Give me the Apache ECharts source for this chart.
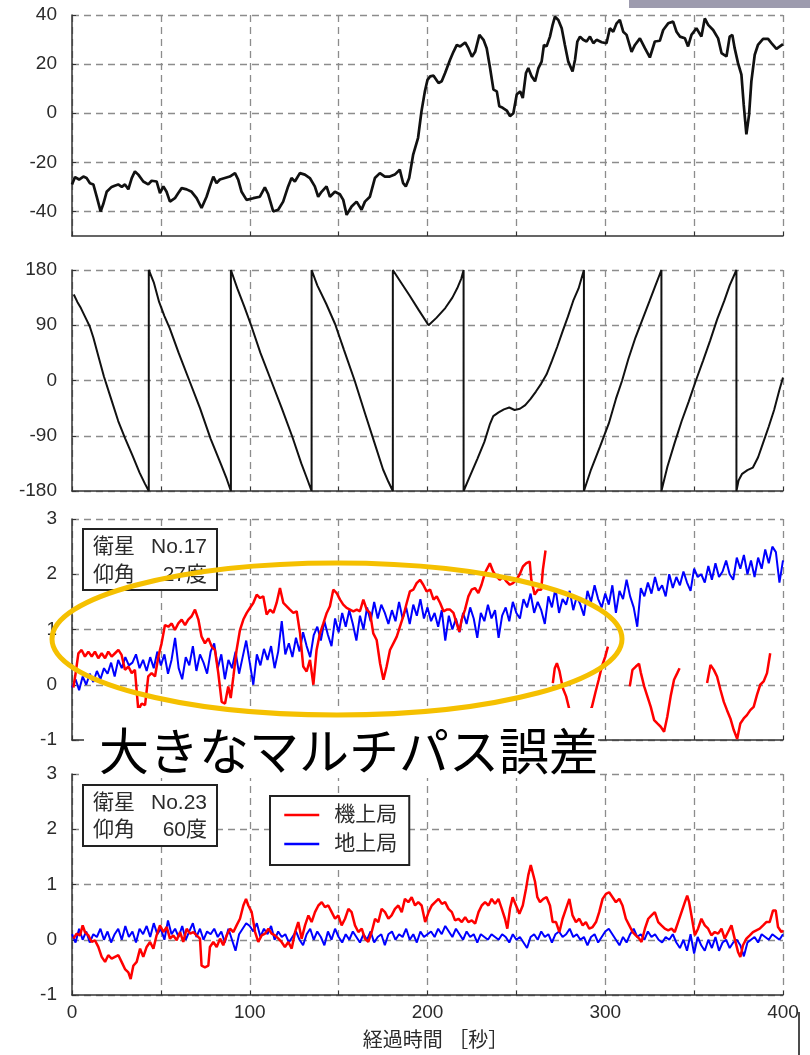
<!DOCTYPE html>
<html>
<head>
<meta charset="utf-8">
<script src="https://cdn.jsdelivr.net/npm/echarts@6/dist/echarts.min.js"></script>
<style>
  html, body { margin: 0; padding: 0; background: #fff; }
  #chart { width: 810px; height: 1055px; }
</style>
</head>
<body>
<div id="chart"></div>
<script>
// ---- time axis ----
const timeTickLabels = [0, 100, 200, 300, 400];
const SAMPLE_STEP = 2; // seconds between samples of the ground-station series

// ---- panel 1: heading difference [deg] ----
const headingTicks = [-40, -20, 0, 20, 40];
const headingDiff = [
  [0,-29],[1.7,-26],[4,-27],[6.4,-25.8],[8.2,-26.4],[10.1,-28.5],[12,-29],[13.9,-34],[16.1,-40],[17.6,-37],
  [19.5,-32],[22.3,-30],[24,-29.5],[26,-29],[28,-30],[29.8,-29],[31.7,-31],[33.6,-26.4],[35.4,-23.7],[37.3,-25],
  [40.1,-27.8],[42.9,-29],[44.8,-27.5],[47.6,-27.8],[49.5,-32.5],[51.4,-29.8],[53.2,-32],[55.1,-36],[57.9,-34.6],[59.8,-32.5],
  [61.7,-30.5],[64.5,-31],[67.3,-32],[70.1,-34.6],[72.9,-38.6],[75.7,-34],[77.6,-29.8],[79.5,-25.8],[81.3,-28.5],[83.2,-27],
  [86,-26.4],[88.8,-25.8],[91.7,-24.4],[93.5,-27],[95.4,-32],[98.2,-35.3],[102,-34.6],[105.7,-34],[108.5,-30.2],[110.4,-33],
  [113.2,-40],[116,-39.3],[118.8,-36],[121.6,-29.8],[123.5,-26.4],[125.4,-27.8],[128.2,-24.4],[131,-25],[133.8,-26.4],[136.6,-29.8],
  [138.5,-34],[140.4,-32],[143.2,-29.8],[145.1,-34],[147.9,-32],[150.7,-33],[152.6,-35.3],[154.5,-41.4],[157.3,-38],[160.1,-36],
  [162.9,-39.3],[164.8,-36],[167.6,-34],[170.4,-26.4],[173.2,-24.4],[176,-25.8],[178.8,-25.8],[181.6,-25],[184.4,-23],[186.3,-28.5],
  [187.8,-29.8],[189.7,-26.4],[191.9,-17],[194.7,-10],[196.6,0.7],[198.5,8.8],[200,13.6],[201.5,15],[203.4,15.3],[206.2,12.3],
  [208,13],[209.9,16.4],[212.7,21.8],[214.6,25],[216.5,27.8],[218.4,27.2],[221.2,28.8],[223,26.5],[225,23],[226.8,25],
  [229.2,31.9],[231.5,29.9],[233.3,26.5],[235.2,18.4],[237.1,9.6],[239,8.9],[240.4,2.8],[242.3,2.2],[244.6,1.1],[246.4,-1.2],
  [248.3,0],[250.2,7.6],[252.1,8.9],[253.6,6.2],[255.4,16.4],[256.7,18.4],[258.6,15],[260.5,13],[262.4,18.4],[264.2,21],
  [265.5,27.8],[267,27.2],[268.9,31.2],[270.4,36],[271.7,39.3],[273.6,38],[275.5,34.6],[277.3,27.8],[279.2,21],[281.6,17],
  [283,21.8],[284.3,29.2],[285.8,31.2],[287.6,29.9],[289.5,29.2],[291.4,31.2],[293.3,28.5],[295.1,29.9],[298,28.9],[300.7,28.5],
  [302.6,34.6],[304.5,33.2],[306.4,36.6],[308.2,38],[310.1,33.2],[312,31.9],[314.8,25],[316.7,27.8],[319.5,30.5],[322.3,26.5],
  [325.1,22.7],[327.9,29.2],[330.7,29.5],[332.6,33.9],[335.4,36.6],[338.2,37.3],[340.1,33.2],[342,31.2],[344.8,30.5],[346.6,27.2],
  [348.5,31.9],[351.3,34.6],[354.1,31.2],[356,38.6],[357.9,36],[360.7,33.9],[363.5,30.5],[365.4,24.5],[368.2,23.1],[370,31.2],
  [371.5,31.9],[372.8,26.5],[374.7,20.4],[376.6,15.7],[377.9,3.5],[379.4,-8.6],[380.9,-0.7],[382.2,13],[384.1,23.8],[385.9,27.8],
  [388.8,30.3],[391.6,30.3],[394,28.1],[396.3,26.2],[400,28.1]
];

// ---- panel 2: phase [deg], wrapping at ±180 ----
const phaseTicks = [-180, -90, 0, 90, 180];
const phaseAngle = [
  [1,140],[3,128],[5,118],[8,100],[10,88],[12,70],[15,38],[18,6],[22,-30],[26,-66],[30,-95],[34,-122],[38,-150],[41,-168],[43.2,-180],[43.2,180],
  [46,160],[49,128],[52,105],[55,85],[60,45],[66,0],[72,-45],[78,-95],[84,-138],[87,-160],[89.4,-180],[89.4,180],
  [93,150],[97,120],[101,88],[106,45],[112,0],[118,-45],[124,-92],[129,-135],[132,-158],[134.8,-180],[134.8,180],
  [138,155],[143,125],[148,92],[153,50],[159,0],[165,-55],[170,-100],[175,-145],[178,-165],[180.5,-180],[180.5,180],
  [185,160],[190,138],[195,115],[200.6,90],[205,102],[210,118],[214,135],[217,152],[219,166],[220.3,180],[220.3,-180],
  [224,-155],[228,-128],[232,-100],[235,-72],[237,-58],[240,-52],[243,-47],[246,-44],[249,-48],[252,-46],[255,-40],[258,-30],[261,-18],
  [264,-5],[267,10],[270,32],[273,55],[276,80],[279,104],[282,130],[285,150],[288,180],[288,-180],
  [292,-145],[297,-108],[302,-70],[306,-30],[309.5,0],[313,35],[317,70],[321,100],[325,130],[328,153],[331.6,180],[331.6,-180],
  [335,-140],[339,-102],[343,-66],[347,-34],[351,0],[355,32],[359,65],[363,100],[367,130],[370,155],[373.8,180],[373.8,-180],
  [375,-163],[377,-152],[380,-146],[383,-142],[386,-125],[389,-100],[392,-75],[395,-48],[398,-15],[400,5]
];

// ---- panels 3 & 4: positioning error [m] ----
const errorTicks = [-1, 0, 1, 2, 3];
const stationNames = ['機上局', '地上局'];
const satelliteIds = ['No.17', 'No.23'];
const elevations = ['27度', '60度'];

// satellite No.17, airborne station ('-' marks dropouts)
const sat17Air = [
  [0.8,-0.05],[2,0.2],[3.6,0.57],[5.4,0.63],[7.3,0.51],[9.2,0.6],[11.1,0.51],[12.9,0.6],[14.8,0.48],[16.7,0.57],
  [18.6,0.48],[20.4,0.6],[22.3,0.51],[24.2,0.57],[26.1,0.63],[27.9,0.54],[29.8,0.27],[31.7,0.33],[33.6,0.21],[35.4,0.27],
  [37.3,-0.46],[39.2,-0.34],[41.1,-0.37],[42.9,0.15],[44.8,0.21],[46.7,0.15],[48.6,0.51],[50.4,0.75],[52.3,1.08],[54.2,1.05],
  [56.1,1.11],[57.9,0.99],[59.8,1.11],[61.7,1.18],[63.6,1.08],[65.4,1.18],[67.3,1.24],[69.2,1.36],[71.1,1.18],[72.9,0.87],
  [74.8,0.75],[76.7,0.84],[78.6,0.69],[80.4,0.63],[82.3,0.21],[84.2,-0.31],[86.1,-0.34],[87.9,-0.03],[89.3,-0.24],[90.8,0.15],
  [92.6,0.63],[94.5,0.99],[96.4,1.18],[98.3,1.3],[100.1,1.39],[102,1.48],[103.9,1.63],[105.8,1.57],[107.6,1.6],[109.5,1.27],
  [111.4,1.36],[113.3,1.3],[115.1,1.48],[117,1.75],[118.9,1.48],[120.8,1.42],[122.6,1.36],[124.5,1.3],[126.4,1.33],[128.3,0.93],
  [130.1,0.33],[132,0.24],[133.9,0.45],[135.8,0.0],[137.6,0.63],[139.5,0.93],[141.4,1.11],[143.3,1.3],[145.1,1.42],[147,1.72],
  [148.9,1.66],[150.8,1.54],[152.6,1.45],[154.5,1.39],[156.4,1.36],[158.3,1.33],[160.2,1.36],[162,1.33],[163.9,1.54],[165.8,1.36],
  [167.7,1.3],[169.5,0.93],[171.4,0.81],[173.3,0.39],[175.2,0.09],[177,0.33],[178.9,0.63],[180.8,0.75],[182.7,0.87],[184.5,1.05],
  [186.4,1.24],[188.3,1.48],[190.1,1.69],[192,1.72],[193.9,1.84],[195.8,1.9],[197.6,1.81],[199.5,1.69],[201.5,1.72],[203.4,1.54],
  [205.2,1.6],[207.1,1.48],[209,1.33],[210.8,1.36],[212.7,1.36],[214.6,1.3],[216.4,1.11],[217.9,0.96],[219.2,1.18],[221.1,1.36],
  [223,1.6],[224.8,1.72],[226.7,1.75],[228.6,1.66],[230.4,1.81],[232.3,2.02],[233.2,2.08],[235.1,2.2],[236.9,2.05],[238.8,1.96],
  [240.7,1.9],[242.5,1.96],[244.4,1.87],[246.3,1.81],[248.1,1.84],[250,1.9],[251.9,2.0],[253.7,2.14],[255.6,2.2],[257.5,2.23],
  [258.4,1.9],[260.3,1.63],[262.1,1.72],[264,1.72],[264.9,2.08],[266.4,2.43],
  [268,'-'],
  [270.5,0.03],[271.6,0.3],[272.8,0.39],[274.3,0.24],[276.1,-0.06],[278,-0.21],[279.9,-0.46],[281.3,-0.67],[283.2,-0.67],[285.1,-0.76],
  [287.3,-0.88],[288.8,-0.76],[290.7,-0.52],[292.5,-0.4],[294.4,-0.15],[296.3,0.09],[298.1,0.33],[300,0.51],[301.5,0.69],
  [308,'-'],
  [313.8,-0.03],[315.3,0.27],[317.2,0.33],[319,0.38],[320,0.22],[321.9,-0.03],[323.7,-0.21],[325.6,-0.4],[327.5,-0.64],[329.3,-0.7],
  [331.2,-0.76],[333.1,-0.85],[334.9,-0.58],[336.8,-0.21],[338.7,0.09],[340.5,0.21],[341.8,0.3],
  [350,'-'],
  [357.3,0.03],[359.2,0.36],[361.1,0.27],[362.9,0.15],[364.8,-0.09],[366.7,-0.31],[368.5,-0.46],[370.4,-0.61],[372.3,-0.82],[374.2,-0.98],
  [376,-0.7],[377.9,-0.61],[379.7,-0.55],[381.6,-0.46],[383.5,-0.4],[385.4,-0.18],[387.2,0.0],[389.1,0.06],[391,0.21],[392.8,0.57]
];

// satellite No.17, ground station (one value every SAMPLE_STEP seconds, 0..400 s)
const sat17Ground = [
  -0.05,0.1,-0.1,0.15,0.0,0.2,0.05,0.25,0.1,0.3,
  0.2,0.4,0.15,0.45,0.3,0.5,0.35,0.4,0.55,0.3,
  0.45,0.25,0.5,0.3,0.6,0.35,0.55,0.2,0.45,0.85,
  0.3,0.1,0.5,0.35,0.7,0.25,0.55,0.4,0.2,0.6,
  0.75,0.3,0.55,0.1,0.45,0.3,0.6,0.2,0.5,0.8,
  0.4,0.0,0.55,0.35,0.65,0.45,0.7,0.3,0.6,1.15,
  0.55,0.75,0.5,0.85,0.6,0.95,0.7,0.5,0.9,1.05,
  0.8,1.15,0.9,0.7,1.2,0.95,1.3,1.05,1.35,1.1,
  0.8,1.25,1.0,1.4,1.15,1.5,1.2,1.45,1.3,1.1,
  1.35,1.15,1.5,1.2,1.4,1.1,1.45,1.25,1.55,1.2,
  1.4,1.15,1.3,1.05,1.35,0.8,1.25,1.0,1.2,0.95,
  1.3,1.1,1.4,1.2,0.85,1.3,1.15,1.45,1.2,1.35,
  0.85,1.25,1.4,1.15,1.5,1.3,1.2,1.55,1.4,1.65,
  1.3,1.5,1.35,1.1,1.6,1.4,1.75,1.3,1.55,1.45,
  1.7,1.35,1.6,1.45,1.25,1.7,1.5,1.8,1.55,1.4,
  1.65,1.45,1.8,1.3,1.7,1.55,1.9,1.6,1.4,1.05,
  1.75,1.6,1.85,1.65,1.95,1.7,1.8,1.6,2.0,1.75,
  1.95,1.8,2.05,1.85,1.7,2.1,1.95,2.0,1.85,2.15,
  1.9,2.2,1.95,2.05,2.25,2.0,1.9,2.3,2.1,2.35,
  2.0,2.25,1.95,2.3,2.1,2.45,2.2,2.5,2.4,1.85,
  2.25
];

// satellite No.23, airborne station
const sat23Air = [
  [0.8,0.02],[2.6,0.11],[4.5,0.08],[6,0.26],[7.3,0.14],[9.2,0.08],[11.1,-0.04],[12.9,-0.01],[14.8,-0.13],[16.7,-0.31],
  [18.6,-0.4],[20.4,-0.28],[22.3,-0.34],[24.2,-0.31],[26.1,-0.28],[27.9,-0.4],[29.8,-0.53],[31.7,-0.59],[33,-0.71],[34.5,-0.47],
  [36.4,-0.4],[38.3,-0.16],[40.1,-0.31],[42,-0.13],[43.9,-0.04],[45.8,-0.16],[47.6,0.08],[49.5,0.26],[51.4,0.14],[53.3,0.23],
  [55.1,0.02],[57,0.08],[58.9,-0.01],[60.8,0.14],[62.6,-0.04],[64.5,0.2],[66.4,0.11],[68.3,0.14],[70.1,0.08],[72,0.02],
  [72.9,-0.47],[74.8,-0.5],[76.7,-0.47],[77.6,-0.13],[79.5,-0.04],[81.4,-0.13],[83.3,0.02],[85.1,-0.1],[87,0.08],[88.9,0.2],
  [90.8,0.14],[92.6,0.26],[94.5,0.38],[96.4,0.62],[97.9,0.74],[99.2,0.62],[101.1,0.5],[103,0.14],[104.8,-0.04],[106.7,0.08],
  [108.6,0.11],[110.5,0.2],[112.3,0.11],[114.2,0.08],[116.1,0.02],[117.9,-0.04],[119.8,-0.13],[121.7,-0.04],[123.6,-0.16],[125.5,0.14],
  [127.3,0.32],[129.2,0.02],[131.1,0.26],[133,0.44],[134.8,0.32],[136.7,0.5],[138.6,0.62],[140.5,0.68],[142.3,0.59],[144.2,0.62],
  [146.1,0.5],[148,0.38],[149.8,0.44],[151.7,0.26],[153.6,0.38],[155.5,0.56],[157.3,0.5],[159.2,0.26],[161.1,0.14],[163,0.2],
  [164.8,0.02],[166.7,-0.04],[168.6,0.14],[170.5,0.38],[172.3,0.32],[174.2,0.56],[176.1,0.5],[178,0.38],[179.8,0.44],[181.7,0.56],
  [183.6,0.62],[185.5,0.5],[187.3,0.74],[189.2,0.68],[191.1,0.77],[193,0.62],[194.8,0.68],[196.7,0.62],[198.7,0.32],[200.6,0.5],
  [202.4,0.62],[204.3,0.68],[206.2,0.74],[208.1,0.65],[209.9,0.68],[211.8,0.56],[213.7,0.5],[215.5,0.35],[217.4,0.38],[219.3,0.32],
  [221.2,0.41],[223,0.32],[224.9,0.35],[226.8,0.29],[228.7,0.5],[230.5,0.62],[232.4,0.68],[234.3,0.62],[236.1,0.74],[238,0.65],
  [239.9,0.74],[241.8,0.56],[243.6,0.38],[244.9,0.2],[246.4,0.56],[247.9,0.77],[249.8,0.62],[251.7,0.47],[253.6,0.62],[255.4,0.92],
  [256.7,1.17],[258.1,1.35],[259.2,1.35],[260.5,1.05],[261.8,0.77],[263.3,0.68],[265.2,0.74],[267,0.77],[268.9,0.62],[270.4,0.32],
  [272.3,0.32],[274.2,0.14],[276,0.38],[277.9,0.56],[279.8,0.74],[281.6,0.44],[283.5,0.32],[285.4,0.38],[287.3,0.26],[289.1,0.32],
  [291,0.2],[292.9,0.23],[294.8,0.32],[296.6,0.5],[298.5,0.74],[300.4,0.83],[302.2,0.86],[304.1,0.77],[306,0.68],[307.9,0.74],
  [309.7,0.62],[311.6,0.38],[313.5,0.26],[315.4,0.14],[317.2,0.08],[319.1,0.02],[320.4,-0.04],[322.3,0.2],[324.2,0.38],[326,0.44],
  [327.9,0.5],[329.8,0.32],[331.6,0.26],[333.5,0.2],[335.4,0.17],[337.3,0.2],[339.1,0.14],[341,0.32],[342.9,0.5],[344.8,0.68],
  [346.1,0.8],[347.2,0.68],[348.5,0.44],[350.4,0.08],[352.2,0.2],[354.1,0.38],[356,0.26],[357.9,0.2],[359.7,0.08],[361.6,0.14],
  [363.5,0.11],[365.4,0.2],[367.2,0.02],[369.1,0.14],[371,0.26],[372.8,0.02],[374.7,-0.22],[376,-0.31],[377.5,-0.1],[379.4,0.02],
  [381.3,0.08],[383.1,0.14],[385,0.17],[386.9,0.2],[388.8,0.26],[390.6,0.32],[392.5,0.32],[394.4,0.53],[395.9,0.53],[397.2,0.23],
  [399.1,0.14],[400,0.17]
];

// satellite No.23, ground station (one value every SAMPLE_STEP seconds)
const sat23Ground = [
  0.1,-0.05,0.2,0.0,0.15,-0.05,0.1,0.05,0.2,0.0,
  0.15,-0.05,0.1,0.2,0.0,0.25,0.05,0.15,-0.05,0.2,
  0.1,0.25,0.05,0.3,0.1,0.2,0.0,0.35,0.1,0.2,
  0.05,0.25,0.0,0.15,0.3,0.05,0.2,0.0,0.15,0.1,
  0.2,0.05,0.15,-0.05,0.2,0.0,-0.2,0.1,0.2,0.3,
  0.25,0.15,0.3,0.05,0.2,0.1,0.25,0.0,0.15,0.05,
  0.1,-0.05,0.05,0.15,0.0,-0.1,0.1,0.2,0.0,0.15,
  0.05,-0.1,0.15,0.0,0.2,0.05,-0.05,0.1,0.0,0.15,
  0.05,-0.05,0.1,0.0,0.15,-0.05,0.05,0.1,-0.1,0.1,
  0.15,0.0,0.1,0.05,0.2,0.0,0.1,-0.05,0.15,0.05,
  0.1,0.15,0.05,0.2,0.1,0.25,0.15,0.05,0.2,0.1,
  0.0,0.15,0.05,0.1,-0.05,0.1,0.05,0.0,0.1,0.05,
  0.0,0.1,0.05,-0.05,0.1,0.0,0.05,-0.05,-0.15,0.05,
  0.1,0.0,0.15,0.05,0.1,-0.05,0.1,0.15,0.05,0.1,
  0.2,0.05,0.1,0.0,0.05,-0.1,0.05,0.1,-0.05,0.05,
  0.15,0.2,0.1,0.0,-0.1,0.05,-0.05,0.1,0.2,0.05,
  0.1,0.0,0.15,0.05,0.1,0.0,-0.05,0.05,0.0,0.1,
  -0.05,-0.15,0.0,-0.2,0.1,-0.25,0.05,-0.1,-0.2,0.0,
  -0.15,0.05,-0.2,-0.05,0.0,-0.15,-0.05,0.0,-0.1,-0.3,
  -0.05,0.0,0.05,-0.05,0.1,0.05,0.0,0.1,0.05,0.0,
  0.1
];

const AIR_COLOR = '#ff0000';
const GROUND_COLOR = '#0000ff';
const LABEL_FONT = '"Liberation Sans", Arial, sans-serif';
const JP_FONT = '"Liberation Sans", "Noto Sans CJK JP", sans-serif';

const withTimes = vals => vals.map((v, i) => [i * SAMPLE_STEP, v]);

const gridRects = [
  { top: 15, height: 221 },
  { top: 270, height: 221 },
  { top: 519, height: 221 },
  { top: 774, height: 221 }
];

const dashed = { color: '#8c8c8c', width: 1.3, type: [7, 5] };

function xAxisFor(idx, isBottom) {
  return {
    type: 'value', gridIndex: idx, min: 0, max: 400, interval: 50,
    axisLine: { show: true, onZero: false, lineStyle: { color: '#333', width: 1.5 } },
    axisTick: { show: true, inside: true, length: 4, lineStyle: { color: '#333' } },
    axisLabel: {
      show: isBottom, customValues: timeTickLabels, margin: 8,
      fontSize: 19, color: '#2b2b2b', fontFamily: LABEL_FONT
    },
    splitLine: { show: true, lineStyle: dashed },
    name: isBottom ? '経過時間 ［秒］' : '',
    nameLocation: 'middle', nameGap: 36,
    nameTextStyle: { fontSize: 20, color: '#2b2b2b', fontFamily: JP_FONT, padding: [0, 0, 0, 16] }
  };
}

function yAxisFor(idx, min, max, interval, ticks) {
  return {
    type: 'value', gridIndex: idx, min, max, interval,
    axisLine: { show: true, onZero: false, lineStyle: { color: '#333', width: 1.5 } },
    axisTick: { show: true, inside: true, length: 4, customValues: ticks, lineStyle: { color: '#333' } },
    axisLabel: { customValues: ticks, margin: 15, fontSize: 19, color: '#2b2b2b', fontFamily: LABEL_FONT },
    splitLine: { show: true, lineStyle: dashed }
  };
}

function infoBox(x, y, h, rowGap, satId, elev) {
  const font = '21px ' + JP_FONT;
  const r1 = y + 18, r2 = r1 + rowGap;
  return [
    { type: 'rect', z: 50, shape: { x, y, width: 134, height: h },
      style: { fill: '#fff', stroke: '#222', lineWidth: 2 } },
    { type: 'text', z: 51, style: { x: x + 10, y: r1, text: '衛星', font, fill: '#2b2b2b', align: 'left', verticalAlign: 'middle' } },
    { type: 'text', z: 51, style: { x: x + 124, y: r1, text: satId, font, fill: '#2b2b2b', align: 'right', verticalAlign: 'middle' } },
    { type: 'text', z: 51, style: { x: x + 10, y: r2, text: '仰角', font, fill: '#2b2b2b', align: 'left', verticalAlign: 'middle' } },
    { type: 'text', z: 51, style: { x: x + 124, y: r2, text: elev, font, fill: '#2b2b2b', align: 'right', verticalAlign: 'middle' } }
  ];
}

const chart = echarts.init(document.getElementById('chart'), null, { renderer: 'canvas' });

chart.setOption({
  backgroundColor: '#fff',
  animation: false,
  grid: gridRects.map(g => ({ left: 72, right: 27, top: g.top, height: g.height })),
  xAxis: [xAxisFor(0, false), xAxisFor(1, false), xAxisFor(2, false), xAxisFor(3, true)],
  yAxis: [
    yAxisFor(0, -50, 40, 10, headingTicks),
    yAxisFor(1, -180, 180, 90, phaseTicks),
    yAxisFor(2, -1, 3, 1, errorTicks),
    yAxisFor(3, -1, 3, 1, errorTicks)
  ],
  legend: {
    data: stationNames, orient: 'vertical', left: 270, top: 796,
    padding: [8, 12, 10, 13], itemWidth: 35, itemHeight: 14, itemGap: 7,
    borderColor: '#222', borderWidth: 2, backgroundColor: '#fff',
    // line-only keys: hide the marker that line series add to their legend icon
    itemStyle: { opacity: 0, color: 'rgba(0,0,0,0)', borderWidth: 0 },
    lineStyle: { width: 2.5 },
    textStyle: { fontSize: 21, lineHeight: 22, color: '#2b2b2b', fontFamily: JP_FONT, padding: [0, 0, 0, 10] },
    z: 20
  },
  series: [
    { type: 'line', xAxisIndex: 0, yAxisIndex: 0, data: headingDiff, symbol: 'none',
      lineStyle: { color: '#111', width: 2.7 }, silent: true },
    { type: 'line', xAxisIndex: 1, yAxisIndex: 1, data: phaseAngle, symbol: 'none',
      lineStyle: { color: '#111', width: 2 }, silent: true },
    { type: 'line', name: stationNames[1], xAxisIndex: 2, yAxisIndex: 2, data: withTimes(sat17Ground), symbol: 'none',
      itemStyle: { color: GROUND_COLOR }, lineStyle: { color: GROUND_COLOR, width: 2 } },
    { type: 'line', name: stationNames[0], xAxisIndex: 2, yAxisIndex: 2, data: sat17Air, symbol: 'none',
      connectNulls: false, itemStyle: { color: AIR_COLOR }, lineStyle: { color: AIR_COLOR, width: 2.5 } },
    { type: 'line', name: stationNames[1], xAxisIndex: 3, yAxisIndex: 3, data: withTimes(sat23Ground), symbol: 'none',
      itemStyle: { color: GROUND_COLOR }, lineStyle: { color: GROUND_COLOR, width: 2 } },
    { type: 'line', name: stationNames[0], xAxisIndex: 3, yAxisIndex: 3, data: sat23Air, symbol: 'none',
      itemStyle: { color: AIR_COLOR }, lineStyle: { color: AIR_COLOR, width: 2.5 } }
  ],
  graphic: { elements: [
    // slide header strip
    { type: 'rect', z: 40, shape: { x: 629, y: 0, width: 181, height: 8 }, style: { fill: '#9d9bae' } },
    // slide frame edge
    { type: 'line', z: 40, shape: { x1: 799, y1: 1012, x2: 799, y2: 1055 }, style: { stroke: '#111', lineWidth: 1.5 } },
    ...infoBox(83, 529, 61, 28, satelliteIds[0], elevations[0]),
    ...infoBox(83, 785, 61, 27, satelliteIds[1], elevations[1]),
    // callout
    { type: 'rect', z: 55, shape: { x: 84, y: 708, width: 514, height: 70 }, style: { fill: '#fff' } },
    { type: 'text', z: 56, style: { x: 99, y: 751, text: '大きなマルチパス誤差',
      font: '50px "Noto Sans CJK JP", sans-serif', fill: '#000', align: 'left', verticalAlign: 'middle' } },
    { type: 'ellipse', z: 60, shape: { cx: 337, cy: 639, rx: 285, ry: 76 },
      style: { fill: 'none', stroke: '#f5c000', lineWidth: 5 } }
  ] }
});
</script>
</body>
</html>
